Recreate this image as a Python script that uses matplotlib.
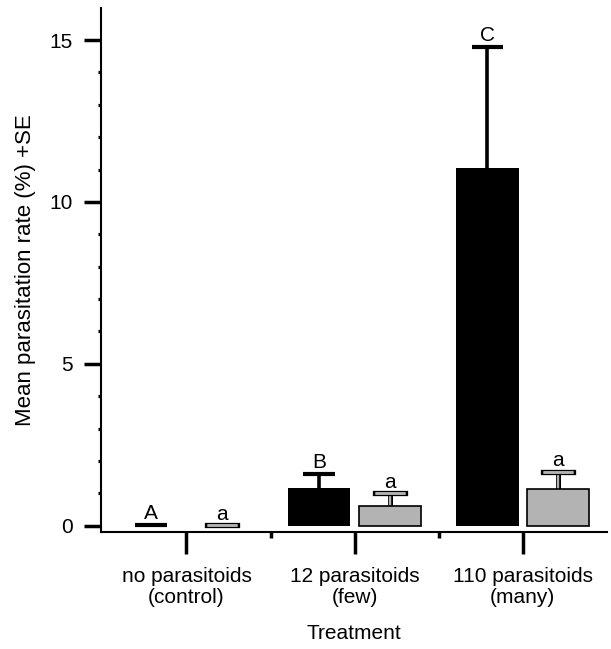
import matplotlib
matplotlib.use("Agg")
import matplotlib.pyplot as plt
import matplotlib.patheffects as pe
import numpy as np

categories = ["no parasitoids\n(control)", "12 parasitoids\n(few)", "110 parasitoids\n(many)"]
black_mean = [0.0, 1.18, 11.05]
black_se = [0.03, 0.42, 3.75]
gray_mean = [0.0, 0.60, 1.12]
gray_se = [0.02, 0.40, 0.55]
black_letters = ["A", "B", "C"]
gray_letters = ["a", "a", "a"]
y_ticks = [0, 5, 10, 15]

plt.rcParams['font.family'] = ['Liberation Sans', 'DejaVu Sans']
FS = 15
GRAY = '#b3b3b3'

fig = plt.figure(figsize=(6.11, 6.49), dpi=100)
ax = fig.add_axes([0.1653, 0.1807, 0.828, 0.807])

x = np.arange(len(categories))
off = 0.21
w = 0.37
cap = 0.095

xb = x - off
xg = x + off

ax.bar(xb, black_mean, width=w, color='black', edgecolor='black', linewidth=0, zorder=3)
gray_lw = [1.2 if m > 0 else 0 for m in gray_mean]
ax.bar(xg, gray_mean, width=w, color=GRAY, edgecolor='black', linewidth=gray_lw, zorder=3)

# black error bars
for xi, m, s in zip(xb, black_mean, black_se):
    ax.plot([xi, xi], [m, m + s], color='black', lw=2.6, solid_capstyle='butt', zorder=2)
    ax.plot([xi - cap, xi + cap], [m + s, m + s], color='black', lw=3.0,
            solid_capstyle='butt', zorder=4)

# gray error bars with black outline
for xi, m, s in zip(xg, gray_mean, gray_se):
    ax.plot([xi, xi], [m, m + s], color=GRAY, lw=1.6, solid_capstyle='butt', zorder=2,
            path_effects=[pe.withStroke(linewidth=3.6, foreground='black'), pe.Normal()])
    ax.plot([xi - cap + 0.006, xi + cap - 0.006], [m + s, m + s], color=GRAY, lw=1.8,
            solid_capstyle='butt', zorder=4,
            path_effects=[pe.withStroke(linewidth=3.8, foreground='black', capstyle='projecting'),
                          pe.Normal()])

for xi, m, s, t in zip(xb, black_mean, black_se, black_letters):
    ax.annotate(t, xy=(xi, m + s), xytext=(0, 4.0), textcoords='offset points',
                ha='center', va='baseline', fontsize=FS, zorder=5)
for xi, m, s, t in zip(xg, gray_mean, gray_se, gray_letters):
    ax.annotate(t, xy=(xi, m + s), xytext=(0, 4.0), textcoords='offset points',
                ha='center', va='baseline', fontsize=FS, zorder=5)

ax.set_xlim(-0.508, 2.5)
ax.set_ylim(-0.185, 15.99)

for sp in ['top', 'right']:
    ax.spines[sp].set_visible(False)
for sp in ['left', 'bottom']:
    ax.spines[sp].set_linewidth(1.5)

ax.set_yticks(y_ticks)
ax.set_yticks(np.arange(0, 16, 1), minor=True)
ax.set_xticks(x)
ax.set_xticklabels(categories, fontsize=FS, linespacing=1.15)
ax.set_xticks([0.5, 1.5], minor=True)
ax.tick_params(axis='y', which='major', length=12.2, width=2.5, labelsize=FS, pad=8)
ax.tick_params(axis='y', which='minor', length=2.5, width=2.3)
ax.tick_params(axis='x', which='major', length=15.5, width=2.5, labelsize=FS, pad=10)
ax.tick_params(axis='x', which='minor', length=4.0, width=2.5)

ax.set_ylabel("Mean parasitation rate (%) +SE", fontsize=16, labelpad=10)
ax.set_xlabel("Treatment", fontsize=FS, labelpad=12)

fig.savefig("out.png", dpi=100)
